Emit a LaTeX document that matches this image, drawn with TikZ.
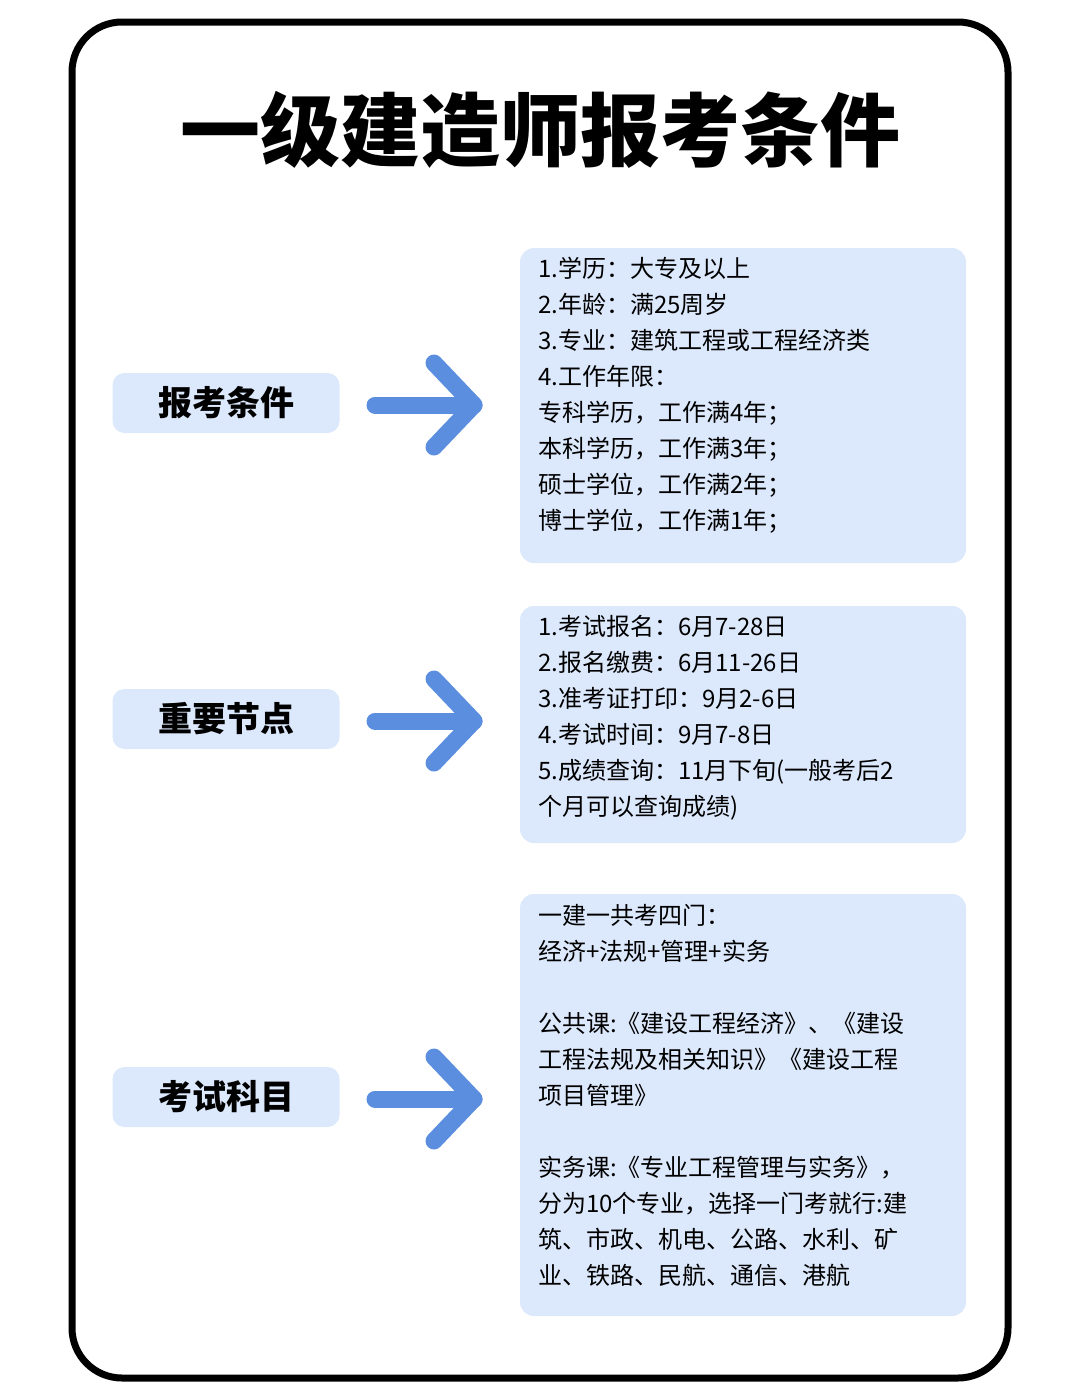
\documentclass[tikz,border=0pt]{standalone}
\usepackage{fontspec}
\setmainfont{Noto Sans CJK SC}
\definecolor{boxb}{HTML}{DCE8FB}
\definecolor{arrb}{HTML}{5B8EDE}
\tikzset{
 lbl/.style={fill=boxb,rounded corners=12pt,minimum width=227pt,minimum height=60pt,font=\fontsize{34}{40}\selectfont\bfseries},
 txt/.style={anchor=north west,inner sep=0pt,align=left,font=\fontsize{24}{36}\selectfont},
 arr/.style={draw=arrb,line width=17pt,line cap=round,line join=round}
}
\begin{document}
\begin{tikzpicture}[x=1pt,y=-1pt]
\useasboundingbox (0,0) rectangle (1080,1400);
\fill[white] (0,0) rectangle (1080,1400);
\draw[line width=7pt,rounded corners=50pt] (72,22) rectangle (1008,1378);
\node (title) at (540,130) {\fontsize{80}{90}\selectfont\bfseries 一级建造师报考条件};
% right boxes
\fill[boxb,rounded corners=14pt] (520,248) rectangle (966,563);
\fill[boxb,rounded corners=14pt] (520,606) rectangle (966,843);
\fill[boxb,rounded corners=14pt] (520,894) rectangle (966,1316);
\node[txt] (t1) at (538,257) {1.学历：大专及以上\\2.年龄：满25周岁\\3.专业：建筑工程或工程经济类\\4.工作年限：\\专科学历，工作满4年；\\本科学历，工作满3年；\\硕士学位，工作满2年；\\博士学位，工作满1年；};
\node[txt] (t2) at (538,615) {1.考试报名：6月7-28日\\2.报名缴费：6月11-26日\\3.准考证打印：9月2-6日\\4.考试时间：9月7-8日\\5.成绩查询：11月下旬(一般考后2\\个月可以查询成绩)};
\node[txt] (t3) at (538,904) {一建一共考四门：\\经济+法规+管理+实务\\[36pt]公共课:《建设工程经济》、《建设\\工程法规及相关知识》《建设工程\\项目管理》\\[36pt]实务课:《专业工程管理与实务》，\\分为10个专业，选择一门考就行:建\\筑、市政、机电、公路、水利、矿\\业、铁路、民航、通信、港航};
% labels
\node[lbl] (l1) at (226,403) {报考条件};
\node[lbl] (l2) at (226,719) {重要节点};
\node[lbl] (l3) at (226,1097) {考试科目};
% arrows
\foreach \y/\n in {405/a,721/b,1099/c}{
 \coordinate (s\n) at (375,\y);
 \coordinate (e\n) at (474,\y);
 \draw[arr] (s\n) -- (e\n);
 \draw[arr] ([shift={(-40,-42)}]e\n) -- (e\n) -- ([shift={(-40,42)}]e\n);
}
\end{tikzpicture}
\end{document}
